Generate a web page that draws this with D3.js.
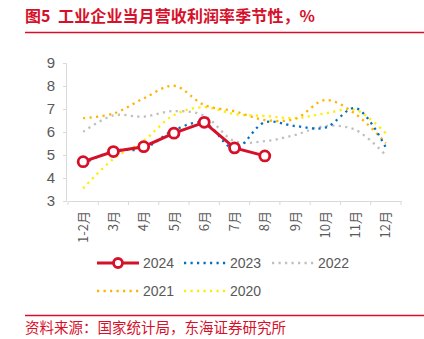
<!DOCTYPE html>
<html>
<head>
<meta charset="utf-8">
<script src="https://cdn.jsdelivr.net/npm/d3@7"></script>
<style>
  body { margin: 0; background: #fff; }
  text { font-family: "Noto Sans CJK SC", "Liberation Sans", sans-serif; }
</style>
</head>
<body>
<svg id="chart"></svg>
<script>
const months = ["1-2月", "3月", "4月", "5月", "6月", "7月", "8月", "9月", "10月", "11月", "12月"];
const yTicks = [3, 4, 5, 6, 7, 8, 9];

const v2024 = [4.71, 5.15, 5.36, 5.95, 6.42, 5.31, 4.96];
const v2023 = [4.62, 5.18, 5.28, 6.08, 6.40, 5.27, 6.42, 6.26, 6.19, 7.04, 5.32];
const v2022 = [6.01, 6.72, 6.67, 6.91, 6.71, 5.6, 5.6, 5.87, 6.26, 6.09, 4.99];
const v2021 = [6.60, 6.80, 7.46, 8.01, 7.17, 6.90, 6.52, 6.57, 7.39, 6.78, 5.51];
const v2020 = [3.55, 4.83, 5.62, 6.74, 7.08, 6.78, 6.70, 6.60, 6.81, 6.96, 5.94];

const years = ["2024", "2023", "2022", "2021", "2020"];
const colors = ["#d7102a", "#0070c0", "#bfbfbf", "#ffb300", "#ffee00"];

const width = 424, height = 339;
const red = "#d7102a";

const svg = d3.select("#chart").attr("width", width).attr("height", height);

// title
svg.append("text")
  .attr("x", 25).attr("y", 22)
  .attr("fill", red)
  .style("font-size", "16px").style("font-weight", "bold")
  .style("white-space", "pre")
  .attr("textLength", 290)
  .text("图5  工业企业当月营收利润率季节性，%");
svg.append("line")
  .attr("x1", 25).attr("x2", 424).attr("y1", 32.5).attr("y2", 32.5)
  .attr("stroke", red).attr("stroke-width", 1.5);

// footer
svg.append("line")
  .attr("x1", 25).attr("x2", 424).attr("y1", 315.5).attr("y2", 315.5)
  .attr("stroke", red).attr("stroke-width", 1.5);
svg.append("text")
  .attr("x", 25).attr("y", 333)
  .attr("fill", red)
  .style("font-size", "14.5px")
  .text("资料来源：国家统计局，东海证券研究所");

const x = d3.scaleBand().domain(months).range([68, 401]);
const y = d3.scaleLinear().domain([3, 9]).range([201, 63]);

// y axis
const yAxis = svg.append("g")
  .attr("transform", "translate(66,0)")
  .call(d3.axisLeft(y).tickValues(yTicks).tickFormat(d3.format("d")).tickSize(3).tickPadding(8));
yAxis.select(".domain").attr("stroke", "#d9d9d9");
yAxis.selectAll(".tick line").attr("stroke", "#d9d9d9");
yAxis.selectAll("text").attr("fill", "#595959").style("font-size", "15px")
  .style("font-family", "'Liberation Sans', sans-serif");

// x axis
const xAxis = svg.append("g")
  .attr("transform", "translate(0,201)")
  .call(d3.axisBottom(x).tickSize(0).tickPadding(0));
xAxis.select(".domain").attr("stroke", "#d9d9d9");
xAxis.selectAll("text")
  .attr("fill", "#595959").style("font-size", "13px")
  .attr("transform", "rotate(-90)")
  .attr("text-anchor", "end")
  .attr("x", -10).attr("y", 0).attr("dy", "0.35em");
xAxis.selectAll(".bound")
  .data(d3.range(months.length + 1))
  .join("line")
  .attr("x1", i => 68 + i * x.step()).attr("x2", i => 68 + i * x.step())
  .attr("y1", 0).attr("y2", 4)
  .attr("stroke", "#d9d9d9");

const cx = i => x(months[i]) + x.bandwidth() / 2;
const smooth = d3.line().x((d, i) => cx(i)).y(d => y(d)).curve(d3.curveCatmullRom.alpha(0.5));

const dotted = [[v2020, colors[4]], [v2021, colors[3]], [v2022, colors[2]], [v2023, colors[1]]];
dotted.forEach(([vals, c]) => {
  svg.append("path")
    .datum(vals)
    .attr("fill", "none")
    .attr("stroke", c)
    .attr("stroke-width", 2.3)
    .attr("stroke-dasharray", "2.2 4.3")
    .attr("d", smooth);
});

// 2024 line with markers
const straight = d3.line().x((d, i) => cx(i)).y(d => y(d));
svg.append("path")
  .datum(v2024)
  .attr("fill", "none")
  .attr("stroke", colors[0])
  .attr("stroke-width", 3)
  .attr("d", straight);
svg.selectAll(".m24")
  .data(v2024)
  .join("circle")
  .attr("cx", (d, i) => cx(i)).attr("cy", d => y(d))
  .attr("r", 5)
  .attr("fill", "#fff")
  .attr("stroke", colors[0])
  .attr("stroke-width", 2.8);

// legend
const legendPos = [[97, 263], [184, 263], [272, 263], [97, 291], [184, 291]];
years.forEach((yr, i) => {
  const [lx, ly] = legendPos[i];
  const g = svg.append("g").attr("transform", `translate(${lx},${ly})`);
  if (i === 0) {
    g.append("line").attr("x1", 0).attr("x2", 42).attr("y1", 0).attr("y2", 0)
      .attr("stroke", colors[0]).attr("stroke-width", 3);
    g.append("circle").attr("cx", 21).attr("cy", 0).attr("r", 4.5)
      .attr("fill", "#fff").attr("stroke", colors[0]).attr("stroke-width", 2.8);
  } else {
    g.append("line").attr("x1", 0).attr("x2", 42).attr("y1", 0).attr("y2", 0)
      .attr("stroke", colors[i]).attr("stroke-width", 2.3)
      .attr("stroke-dasharray", "2.2 4.3");
  }
  g.append("text").attr("x", 46).attr("y", 0).attr("dy", "0.36em")
    .attr("fill", "#595959").style("font-size", "14px")
    .style("font-family", "'Liberation Sans', sans-serif")
    .text(yr);
});
</script>
</body>
</html>
